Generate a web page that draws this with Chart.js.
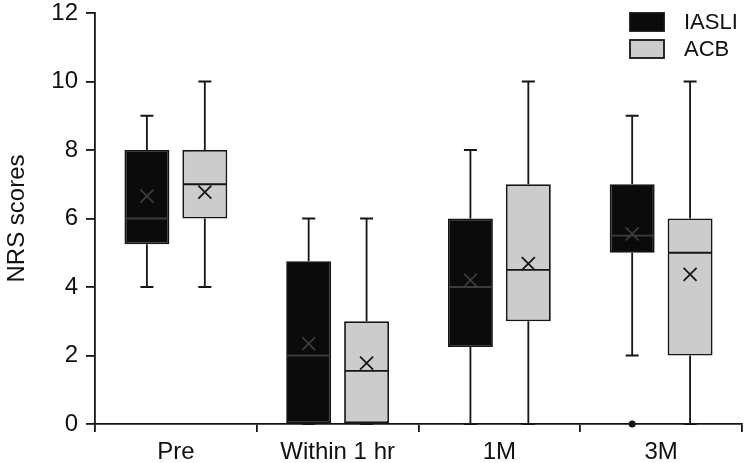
<!DOCTYPE html>
<html>
<head>
<meta charset="utf-8">
<script src="https://cdn.jsdelivr.net/npm/chart.js@4.4.1/dist/chart.umd.min.js"></script>
<style>
  html, body { margin: 0; padding: 0; background: #fff; }
  #wrap { width: 744px; height: 463px; }
</style>
</head>
<body>
<div id="wrap"><canvas id="chart" width="744" height="463"></canvas></div>
<script>
// data
const categories = ["Pre", "Within 1 hr", "1M", "3M"];

const iasliMin = [4, 0, 0, 2];
const iasliQ1 = [5.25, 0, 2.25, 5];
const iasliMedian = [6, 2, 4, 5.5];
const iasliQ3 = [8, 4.75, 6, 7];
const iasliMax = [9, 6, 8, 9];
const iasliMean = [6.65, 2.35, 4.2, 5.55];
const iasliOutliers = [[], [], [], [0]];

const acbMin = [4, 0, 0, 0];
const acbQ1 = [6, 0, 3, 2];
const acbMedian = [7, 1.55, 4.5, 5];
const acbQ3 = [8, 3, 7, 6];
const acbMax = [10, 6, 10, 10];
const acbMean = [6.77, 1.78, 4.68, 4.37];
const acbOutliers = [[], [], [], []];

const yTickMin = 0;
const yTickMax = 12;
const yTickStep = 2;

const FONT = "'Liberation Sans', Arial, sans-serif";
const INK = "#151515";

// the extra box plot parts, kept next to each dataset
const boxStats = [
  { min: iasliMin, median: iasliMedian, max: iasliMax, mean: iasliMean, outliers: iasliOutliers },
  { min: acbMin, median: acbMedian, max: acbMax, mean: acbMean, outliers: acbOutliers },
];

const boxPlugin = {
  id: "boxExtras",
  afterDatasetsDraw(chart) {
    const ctx = chart.ctx;
    const y = chart.scales.y;
    ctx.save();
    ctx.lineWidth = 1.8;
    chart.data.datasets.forEach((ds, di) => {
      const st = boxStats[di];
      const meta = chart.getDatasetMeta(di);
      // lines on top of the black boxes need to be a bit lighter to show
      const inner = di === 0 ? "#3c3c3c" : INK;
      meta.data.forEach((bar, i) => {
        const x = bar.x;
        const half = bar.width / 2 - 1;
        const cap = 6.5;
        const [q1, q3] = ds.data[i];
        // whiskers
        ctx.strokeStyle = INK;
        ctx.beginPath();
        ctx.moveTo(x, y.getPixelForValue(q3));
        ctx.lineTo(x, y.getPixelForValue(st.max[i]));
        ctx.moveTo(x - cap, y.getPixelForValue(st.max[i]));
        ctx.lineTo(x + cap, y.getPixelForValue(st.max[i]));
        ctx.moveTo(x, y.getPixelForValue(q1));
        ctx.lineTo(x, y.getPixelForValue(st.min[i]));
        ctx.moveTo(x - cap, y.getPixelForValue(st.min[i]));
        ctx.lineTo(x + cap, y.getPixelForValue(st.min[i]));
        ctx.stroke();
        // median
        ctx.strokeStyle = inner;
        ctx.beginPath();
        ctx.moveTo(x - half, y.getPixelForValue(st.median[i]));
        ctx.lineTo(x + half, y.getPixelForValue(st.median[i]));
        ctx.stroke();
        // mean cross
        const my = y.getPixelForValue(st.mean[i]);
        const r = 6.5;
        ctx.beginPath();
        ctx.moveTo(x - r, my - r);
        ctx.lineTo(x + r, my + r);
        ctx.moveTo(x - r, my + r);
        ctx.lineTo(x + r, my - r);
        ctx.stroke();
        // outliers
        ctx.fillStyle = INK;
        st.outliers[i].forEach((v) => {
          ctx.beginPath();
          ctx.arc(x, y.getPixelForValue(v), 3.5, 0, Math.PI * 2);
          ctx.fill();
        });
      });
    });
    ctx.restore();
  },
  afterDraw(chart) {
    // legend in the top right corner of the plot
    const ctx = chart.ctx;
    const area = chart.chartArea;
    ctx.save();
    ctx.font = "22px " + FONT;
    ctx.textBaseline = "middle";
    chart.data.datasets.forEach((ds, di) => {
      const bx = area.right - 112;
      const by = area.top + di * 27;
      ctx.fillStyle = ds.backgroundColor;
      ctx.fillRect(bx, by, 34, 18);
      ctx.strokeStyle = INK;
      ctx.lineWidth = 1.8;
      ctx.strokeRect(bx, by, 34, 18);
      ctx.fillStyle = "#111";
      ctx.fillText(ds.label, bx + 54, by + 10);
    });
    ctx.restore();
  },
};

const config = {
  type: "bar",
  data: {
    labels: categories,
    datasets: [
      {
        label: "IASLI",
        data: categories.map((c, i) => [iasliQ1[i], iasliQ3[i]]),
        backgroundColor: "#0b0b0b",
        borderColor: INK,
        borderWidth: 1.8,
        borderSkipped: false,
      },
      {
        label: "ACB",
        data: categories.map((c, i) => [acbQ1[i], acbQ3[i]]),
        backgroundColor: "#cccccc",
        borderColor: INK,
        borderWidth: 1.8,
        borderSkipped: false,
      },
    ],
  },
  options: {
    responsive: false,
    animation: false,
    categoryPercentage: 0.716,
    barPercentage: 0.776,
    layout: { padding: { top: 13, right: 2, left: 0, bottom: 0 } },
    plugins: {
      legend: { display: false },
      tooltip: { enabled: false },
    },
    scales: {
      x: {
        offset: true,
        grid: {
          offset: true,
          drawOnChartArea: false,
          drawTicks: true,
          tickLength: 8,
          color: INK,
          lineWidth: 1.8,
        },
        border: { display: true, color: INK, width: 1.8 },
        ticks: {
          color: "#111",
          font: { family: FONT, size: 24 },
          padding: 6,
          maxRotation: 0,
        },
        afterFit(scale) {
          scale.height = 39;
          scale.paddingLeft = 0;
          scale.paddingRight = 0;
        },
      },
      y: {
        min: yTickMin,
        max: yTickMax,
        grid: {
          drawOnChartArea: false,
          drawTicks: true,
          tickLength: 9,
          color: INK,
          lineWidth: 1.8,
        },
        border: { display: true, color: INK, width: 1.8 },
        ticks: {
          stepSize: yTickStep,
          color: "#111",
          font: { family: FONT, size: 24 },
          padding: 8,
        },
        title: {
          display: true,
          text: "NRS scores",
          color: "#111",
          font: { family: FONT, size: 24 },
          padding: { top: 3, bottom: 0 },
        },
        afterFit(scale) {
          scale.width = 95;
          // let the top label hang above the plot like in the figure
          scale.paddingTop = 0;
          scale.paddingBottom = 0;
        },
      },
    },
  },
  plugins: [boxPlugin],
};

const myChart = new Chart(document.getElementById("chart"), config);
</script>
</body>
</html>
